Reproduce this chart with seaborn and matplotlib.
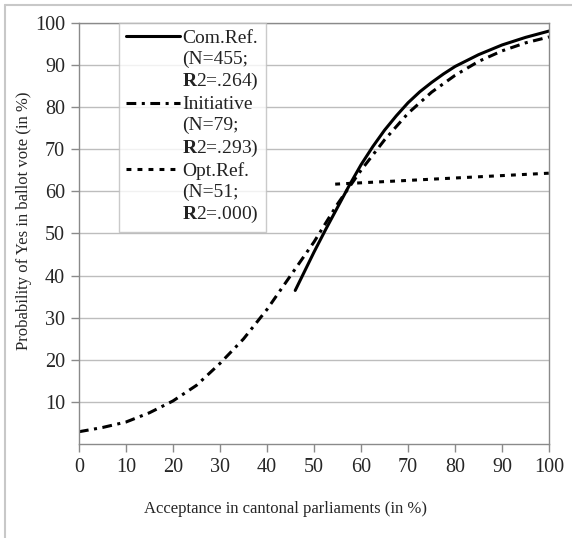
import numpy as np
import pandas as pd
import matplotlib
matplotlib.use("Agg")
from matplotlib import pyplot as plt
from matplotlib.lines import Line2D
import seaborn as sns

# values
com_x = [46, 50, 52.5, 55, 57.5, 60, 62.5, 65, 67.5, 70, 72.5, 75, 77.5, 80, 85, 90, 95, 100]
com_y = [36.5, 45.6, 51, 56.2, 61.4, 66.3, 70.6, 74.5, 77.9, 81, 83.6, 85.8, 87.8, 89.6,
         92.4, 94.7, 96.5, 98]

ini_x = [0, 5, 10, 15, 20, 25, 30, 35, 40, 45, 50, 55, 60, 65, 70, 75, 80, 85, 90, 95, 100]
ini_y = [3, 4, 5.3, 7.5, 10.3, 14, 19.2, 25, 32, 40, 48, 57, 65, 72.2, 78.5, 83.5, 87.5, 90.8,
         93.3, 95.2, 96.6]

opt_x = [54.5, 100]
opt_y = [61.7, 64.3]

series_names = ["Com.Ref.", "Initiative", "Opt.Ref."]
series_info = [["(N=455;", "$\\mathbf{R}$2=.264)"],
               ["(N=79;", "$\\mathbf{R}$2=.293)"],
               ["(N=51;", "$\\mathbf{R}$2=.000)"]]

xticks = list(range(0, 101, 10))
yticks = list(range(10, 101, 10))

df = pd.concat([
    pd.DataFrame({"x": com_x, "y": com_y, "series": series_names[0]}),
    pd.DataFrame({"x": ini_x, "y": ini_y, "series": series_names[1]}),
    pd.DataFrame({"x": opt_x, "y": opt_y, "series": series_names[2]}),
])

sns.set_style("white")
plt.rcParams["font.family"] = ["Liberation Serif", "DejaVu Serif"]
plt.rcParams["mathtext.fontset"] = "custom"
plt.rcParams["mathtext.bf"] = "Liberation Serif:bold"
plt.rcParams["mathtext.rm"] = "Liberation Serif"

fig = plt.figure(figsize=(5.72, 5.38), dpi=100)
ax = fig.add_axes([0.138, 0.174, 0.822, 0.784])

dash_map = {"Com.Ref.": "", "Initiative": (3.2, 1.8, 1.0, 1.8), "Opt.Ref.": (1.6, 2.0)}
sns.lineplot(data=df, x="x", y="y", style="series", dashes=dash_map,
             color="black", linewidth=2.2, ax=ax, legend=False, sort=False)

ax.set_xlim(0, 100)
ax.set_ylim(0, 100)
ax.set_xticks(xticks)
ax.set_yticks(yticks)
ax.yaxis.grid(True, color="#bdbdbd", linewidth=1)
ax.set_axisbelow(True)
for side in ["left", "bottom", "top", "right"]:
    ax.spines[side].set_color("#8a8a8a")
    ax.spines[side].set_linewidth(1)
ax.tick_params(axis="both", direction="out", length=6, width=1, color="#8a8a8a",
               labelsize=14.5, pad=4, left=True, bottom=True)
ax.set_xlabel("Acceptance in cantonal parliaments (in %)", fontsize=12)
ax.set_ylabel("Probability of Yes in ballot vote (in %)", fontsize=12)
ax.xaxis.set_label_coords(0.44, -0.135)
ax.yaxis.set_label_coords(-0.10, 0.53)

# legend: one row per text line, the line sample sits on the first row of each entry
handles, labels = [], []
for name, info in zip(series_names, series_info):
    h = Line2D([], [], color="black", linewidth=2.2)
    if dash_map[name]:
        h.set_dashes(dash_map[name])
    handles.append(h)
    labels.append(name)
    for t in info:
        handles.append(Line2D([], [], color="none"))
        labels.append(t)
leg = ax.legend(handles, labels, loc="upper left", bbox_to_anchor=(0.085, 1.0),
                frameon=True, fancybox=False, fontsize=14, handlelength=2.8,
                handletextpad=0.1, labelspacing=0.17, borderpad=0.35,
                borderaxespad=0)
leg.get_frame().set_edgecolor("#bdbdbd")
leg.get_frame().set_linewidth(1)
for t in leg.get_texts():
    t.set_color("#222222")

# light frame round the picture
fig.add_artist(Line2D([5 / 572, 5 / 572], [0, 1 - 5 / 538], color="#c8c8c8",
                      linewidth=1.5, transform=fig.transFigure))
fig.add_artist(Line2D([5 / 572, 1], [1 - 5 / 538, 1 - 5 / 538], color="#c8c8c8",
                      linewidth=1.5, transform=fig.transFigure))

fig.savefig("out.png", dpi=100)
